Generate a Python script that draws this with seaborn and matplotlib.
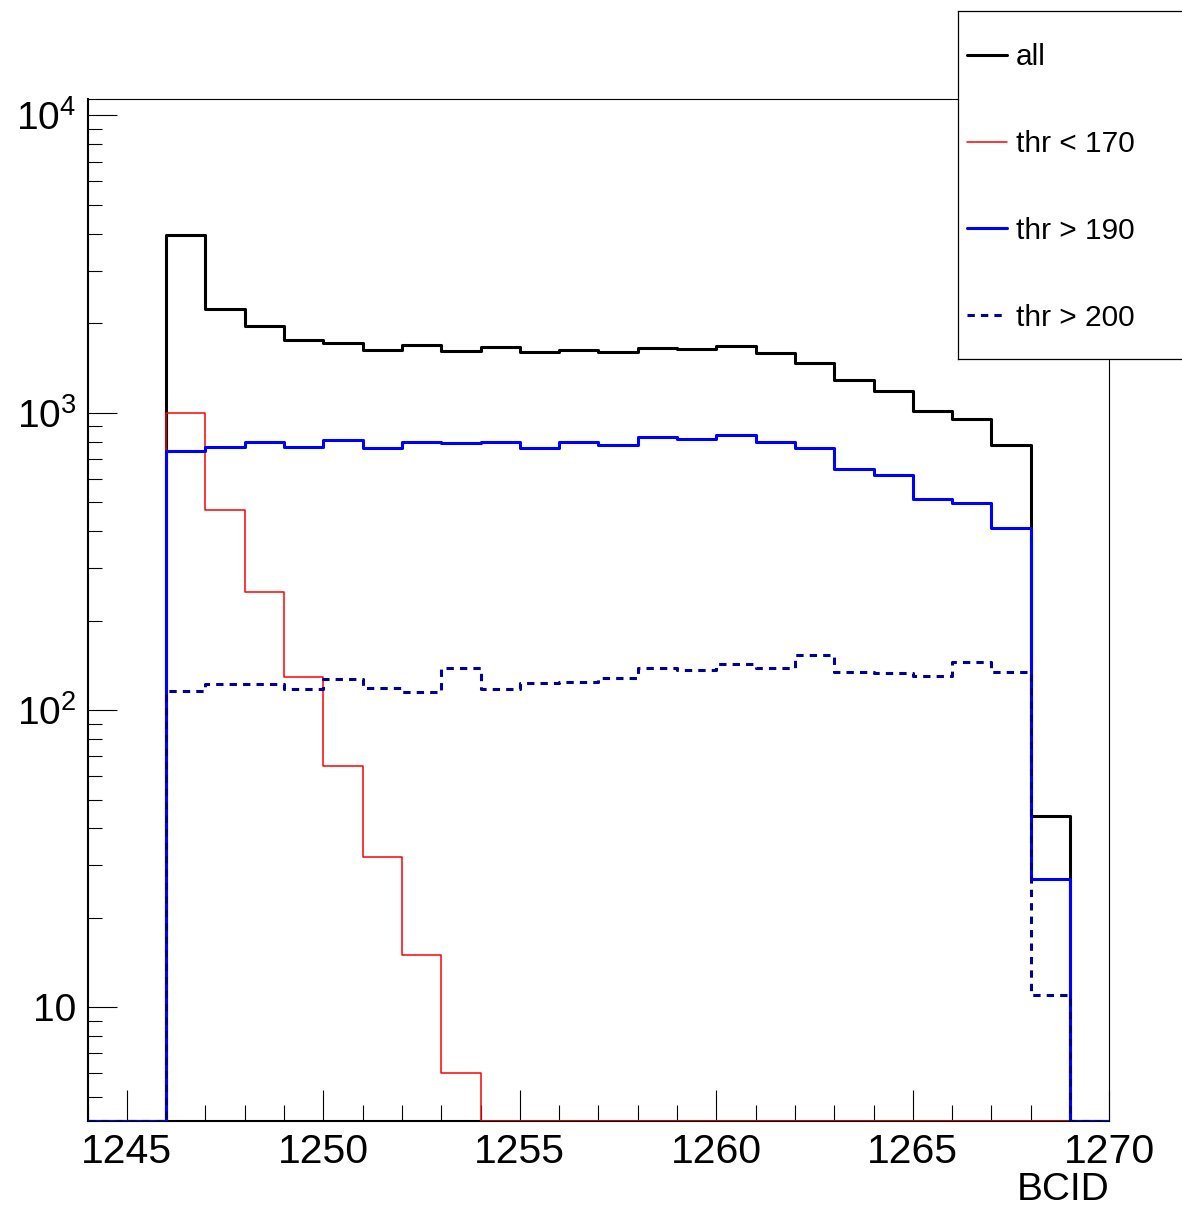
import numpy as np
import pandas as pd
import seaborn as sns
import matplotlib.pyplot as plt
from matplotlib.ticker import MultipleLocator, FixedLocator, FixedFormatter, LogLocator, NullFormatter

# bins (low edges) and counts
bcid = list(range(1244, 1270))
n_all = [0, 0, 3970, 2240, 1960, 1750, 1710, 1620, 1690, 1610, 1660, 1600, 1620,
         1600, 1650, 1635, 1680, 1590, 1475, 1290, 1180, 1010, 950, 780, 44, 0]
n_thr170 = [0, 0, 1000, 471, 249, 129, 65, 32, 15, 6, 0, 0, 0,
            0, 0, 0, 0, 0, 0, 0, 0, 0, 0, 0, 0, 0]
n_thr190 = [0, 0, 746, 766, 796, 765, 809, 763, 800, 794, 798, 763, 797,
            776, 826, 818, 840, 796, 763, 648, 618, 513, 498, 409, 27, 0]
n_thr200 = [0, 0, 116, 122, 122, 118, 127, 119, 115, 138, 118, 123, 124,
            128, 138, 136, 143, 139, 153, 134, 133, 130, 145, 134, 11, 0]
labels = ['all', 'thr < 170', 'thr > 190', 'thr > 200']

y_min, y_max = 4.155, 11360

sns.set_style("ticks")
plt.rcParams['font.family'] = ['Liberation Sans', 'DejaVu Sans']
plt.rcParams['mathtext.fontset'] = 'custom'
plt.rcParams['mathtext.rm'] = 'Liberation Sans'
plt.rcParams['mathtext.default'] = 'regular'
for key in ['text.color', 'axes.labelcolor', 'xtick.color', 'ytick.color', 'axes.edgecolor']:
    plt.rcParams[key] = 'black'

fig = plt.figure(figsize=(11.82, 12.09), dpi=100)
ax = fig.add_axes([87.5 / 1182, 1 - 1120.7 / 1209, (1109.3 - 87.5) / 1182, (1120.7 - 99) / 1209])

styles = [
    (n_all, 'black', 2.2, '-'),
    (n_thr170, '#ff0000', 1.1, '-'),
    (n_thr190, '#0000ff', 2.2, '-'),
    (n_thr200, '#000099', 2.2, (0, (2.4, 2.0))),
]
edges = bcid + [bcid[-1] + 1]
for counts, color, lw, ls in styles:
    # zero bins are drawn on the bottom of the frame, like ROOT does
    y = np.clip(np.array(counts + [counts[-1]], dtype=float), y_min, None)
    df = pd.DataFrame({'BCID': edges, 'n': y})
    sns.lineplot(data=df, x='BCID', y='n', drawstyle='steps-post', estimator=None,
                 color=color, linewidth=lw, linestyle=ls, ax=ax, zorder=3)

ax.set_yscale('log')
ax.set_xlim(1244, 1270)
ax.set_ylim(y_min, y_max)

ax.xaxis.set_major_locator(MultipleLocator(5))
ax.xaxis.set_minor_locator(MultipleLocator(1))
ax.yaxis.set_major_locator(FixedLocator([10, 100, 1000, 10000]))
ax.yaxis.set_major_formatter(FixedFormatter(['10', '$10^{2}$', '$10^{3}$', '$10^{4}$']))
ax.yaxis.set_minor_locator(LogLocator(base=10, subs=np.arange(2, 10)))
ax.yaxis.set_minor_formatter(NullFormatter())

ax.tick_params(axis='x', which='major', direction='in', length=22, width=0.8, labelsize=29.5, pad=8.9, top=False)
ax.tick_params(axis='x', which='minor', direction='in', length=11.3, width=0.8, top=False)
ax.tick_params(axis='y', which='major', direction='in', length=21, width=0.8, labelsize=28, pad=8, right=False)
ax.tick_params(axis='y', which='minor', direction='in', length=10, width=0.8, right=False)

for side in ['left', 'bottom']:
    ax.spines[side].set_linewidth(1.5)
for side in ['top', 'right']:
    ax.spines[side].set_linewidth(0.8)

ax.set_ylabel('')
ax.set_xlabel('BCID', fontsize=28, loc='right')
ax.xaxis.set_label_coords(1.0, -0.050)

# legend box (ROOT style, sticking out at top right)
leg = fig.add_axes([958.3 / 1182, 1 - 359 / 1209, (1200 - 958.3) / 1182, 348 / 1209])
leg.set_xlim(0, 1)
leg.set_ylim(0, 1)
leg.set_xticks([])
leg.set_yticks([])
leg.set_facecolor('white')
for s in leg.spines.values():
    s.set_linewidth(0.9)
    s.set_color('black')
row_y = [0.8736, 0.6244, 0.3753, 0.1264]
text_y = [0.8448, 0.594, 0.3448, 0.0957]
for (counts, color, lw, ls), label, yl, yt in zip(styles, labels, row_y, text_y):
    leg.plot([0.0372, 0.2027], [yl, yl], color=color, linewidth=lw, linestyle=ls)
    leg.text(0.2375, yt, label, fontsize=21.5, va='baseline', ha='left')

fig.savefig('out.png', dpi=100)
